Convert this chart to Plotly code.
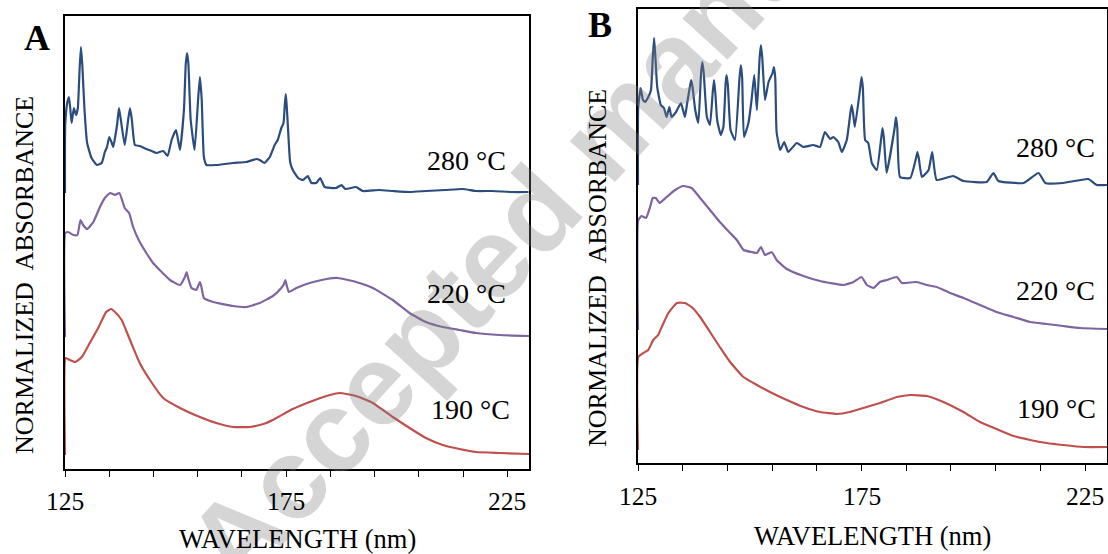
import plotly.graph_objects as go

# ---------------- data (arbitrary absorbance units) ----------------
# Panel A
wl_A_280 = [125.0, 125.05, 125.5, 125.9, 126.2, 126.5, 127.0, 127.5, 127.9, 128.3, 128.6, 128.9, 129.4,
            130.0, 131.0, 132.2, 133.3, 134.0, 134.5, 135.0, 135.5, 135.9, 136.8, 137.2, 137.6, 138.5,
            139.3, 139.7, 140.1, 140.8, 141.9, 143.4, 144.6, 145.7, 147.2, 148.2, 149.1, 150.1, 151.0,
            151.9, 152.3, 152.6, 152.9, 153.4, 154.3, 155.1, 155.5, 155.9, 156.4, 157.0, 159.2, 163.0,
            166.0, 168.3, 169.0, 170.1, 171.3, 172.4, 173.1, 173.9, 174.4, 174.7, 174.9, 175.1, 175.4,
            175.9, 176.5, 177.7, 178.8, 179.9, 180.7, 181.8, 182.7, 183.7, 186.3, 187.5, 188.4, 190.8,
            192.3, 196.0, 199.1, 203.0, 206.6, 211.0, 214.9, 218.0, 221.7, 226.0, 229.8]
abs_A_280 = [276, 344, 366, 372, 360, 346, 361, 354, 361, 400, 422, 405, 360,
             326, 311, 304, 306, 317, 322, 332, 327, 322, 345, 361, 350, 324,
             350, 361, 350, 324, 323, 320, 318, 316, 318, 313, 329, 339, 319,
             360, 405, 416, 405, 350, 319, 370, 392, 370, 312, 304, 304, 306,
             307, 310, 309, 306, 312, 324, 329, 341, 346, 365, 375, 365, 342,
             307, 299, 291, 289, 293, 286, 286, 291, 282, 281, 284, 280, 282,
             278, 279, 278, 277, 278, 279, 280, 278, 278, 277, 277]

wl_A_220 = [125.0, 125.05, 125.7, 126.9, 127.8, 128.5, 129.1, 130.0, 131.4, 132.9, 134.0, 135.2, 136.3,
            137.3, 138.5, 139.5, 140.4, 141.9, 143.4, 144.9, 146.4, 148.0, 148.7, 151.0, 152.1, 152.5,
            152.9, 153.6, 154.7, 155.2, 155.5, 155.8, 156.4, 158.5, 163.0, 166.0, 169.0, 172.0, 173.9,
            174.5, 174.8, 175.1, 175.6, 177.3, 180.3, 184.1, 186.7, 190.8, 194.6, 199.1, 202.9, 206.6,
            210.4, 214.2, 217.9, 223.2, 229.9]
abs_A_220 = [132, 236, 237, 234, 234, 249, 244, 240, 247, 262, 271, 276, 274,
             276, 261, 256, 242, 227, 216, 206, 199, 192, 189, 184, 192, 197,
             190, 181, 179, 184, 187, 183, 171, 167, 163, 162, 166, 173, 181,
             185, 189, 184, 177, 181, 186, 190, 191, 187, 181, 169, 156, 147,
             142, 139, 136, 134, 133]

wl_A_190 = [125.0, 125.15, 126.1, 127.3, 128.8, 130.6, 132.5, 134.3, 135.4, 136.3, 137.8, 139.7, 141.9,
            144.2, 147.2, 151.0, 155.5, 159.2, 163.0, 166.8, 169.0, 170.5, 172.8, 176.5, 180.3, 184.1,
            187.1, 190.8, 194.6, 199.1, 202.9, 206.6, 210.4, 214.2, 217.9, 223.2, 229.9]
abs_A_190 = [14, 111, 109, 107, 112, 126, 141, 157, 160, 157, 149, 129, 106,
             89, 71, 61, 52, 46, 42, 42, 44, 46, 51, 60, 67, 73,
             76, 73, 66, 52, 41, 31, 24, 20, 17, 16, 15]

# Panel B
wl_B_280 = [125.0, 125.05, 125.6, 126.1, 126.6, 127.3, 127.9, 128.3, 128.6, 128.9, 129.3, 130.1, 130.8,
            131.4, 132.0, 132.5, 133.5, 134.6, 135.5, 136.0, 136.6, 136.9, 137.2, 137.8, 138.5, 139.1,
            139.4, 139.7, 140.4, 141.1, 141.7, 142.0, 142.3, 142.7, 143.5, 144.1, 144.6, 144.8, 145.1,
            145.7, 146.7, 147.7, 148.0, 148.3, 148.7, 149.7, 150.4, 151.0, 151.6, 152.2, 152.5, 152.8,
            153.4, 154.2, 155.1, 155.4, 155.7, 156.0, 156.8, 157.7, 158.6, 160.5, 162.0, 164.2, 165.7,
            166.8, 168.0, 168.7, 169.8, 170.6, 171.7, 172.5, 172.8, 173.1, 173.5, 174.7, 175.0, 175.3,
            175.8, 176.5, 177.3, 178.4, 179.4, 179.7, 180.0, 180.6, 182.4, 182.7, 183.0, 183.6, 185.9,
            187.2, 187.5, 187.8, 188.5, 190.0, 190.8, 191.8, 195.5, 197.8, 203.0, 204.5, 205.6, 211.2,
            214.6, 216.1, 220.1, 225.7, 227.6, 229.9]
abs_B_280 = [278, 356, 375, 363, 361, 366, 373, 405, 425, 405, 376, 358, 355,
             346, 356, 346, 351, 360, 346, 360, 376, 383, 376, 353, 340, 390,
             401, 390, 346, 338, 370, 383, 370, 343, 328, 336, 380, 388, 378,
             333, 323, 385, 398, 385, 326, 340, 363, 388, 353, 405, 418, 405,
             363, 381, 390, 396, 385, 331, 313, 321, 311, 320, 316, 318, 316,
             331, 324, 326, 321, 311, 323, 350, 358, 350, 336, 375, 386, 375,
             323, 320, 300, 293, 325, 335, 325, 290, 335, 346, 335, 286, 285,
             305, 311, 305, 286, 293, 311, 283, 287, 282, 281, 290, 282, 280,
             290, 280, 280, 284, 278, 278]

wl_B_220 = [125.0, 125.05, 125.8, 126.8, 127.7, 128.3, 129.0, 129.8, 131.4, 133.3, 135.1, 137.0, 138.9,
            141.1, 143.3, 145.6, 147.1, 148.6, 150.4, 151.6, 152.5, 153.4, 154.9, 156.0, 158.3, 162.0,
            165.7, 168.0, 171.0, 173.2, 175.0, 176.2, 177.7, 179.1, 180.6, 182.9, 184.0, 187.3, 189.6,
            191.8, 194.8, 197.8, 201.5, 205.2, 209.0, 212.7, 216.4, 220.1, 223.9, 229.9]
abs_B_220 = [133, 243, 247, 245, 256, 265, 265, 260, 266, 273, 277, 275, 265,
             253, 241, 230, 223, 213, 211, 210, 216, 208, 211, 203, 194, 187,
             182, 180, 178, 181, 186, 178, 175, 181, 183, 186, 180, 181, 178,
             176, 170, 165, 158, 151, 146, 141, 139, 137, 135, 134]

wl_B_190 = [125.0, 125.05, 126.2, 127.3, 128.4, 129.5, 130.3, 131.8, 133.7, 135.5, 137.0, 138.9, 141.1,
            143.3, 145.6, 148.6, 151.6, 154.5, 158.3, 162.0, 165.7, 169.5, 172.4, 175.4, 179.1, 182.9,
            185.9, 189.6, 193.3, 197.8, 201.5, 205.2, 209.0, 212.7, 216.4, 220.1, 224.6, 229.9]
abs_B_190 = [13, 106, 110, 113, 123, 128, 136, 150, 160, 160, 156, 146, 131,
             116, 101, 86, 78, 71, 63, 56, 51, 49, 51, 55, 60, 66,
             68, 67, 61, 51, 41, 34, 27, 23, 20, 18, 16, 16]

temps = ["280 °C", "220 °C", "190 °C"]
colors = ["#2B4C7E", "#8064A2", "#C0504D"]
tick_vals = [125, 135, 145, 155, 165, 175, 185, 195, 205, 215, 225]
label_vals = [125, 175, 225]
label_text = ["125", "175", "225"]

W, H = 1108, 554
SERIF = "Liberation Serif, Times New Roman, serif"

fig = go.Figure()

panels = [
    ("x", "y", [(wl_A_280, abs_A_280), (wl_A_220, abs_A_220), (wl_A_190, abs_A_190)]),
    ("x2", "y2", [(wl_B_280, abs_B_280), (wl_B_220, abs_B_220), (wl_B_190, abs_B_190)]),
]
for xa, ya, series in panels:
    for (wl, ab), col in zip(series, colors):
        fig.add_trace(go.Scatter(x=wl, y=ab, mode="lines", xaxis=xa, yaxis=ya,
                                 line=dict(color=col, width=2.2, shape="spline", smoothing=0.4),
                                 showlegend=False, hoverinfo="skip"))


def px_x(p):
    return p / W


def px_y(p):
    return 1 - p / H


xcommon = dict(range=[125, 229.9], tickmode="array", tickvals=tick_vals, showticklabels=False,
               ticks="outside", ticklen=6, tickwidth=1.3, tickcolor="black", automargin=False,
               showline=True, linecolor="black", linewidth=1.6, mirror=True,
               showgrid=False, zeroline=False)
ycommon = dict(showticklabels=False, ticks="", showline=True, linecolor="black", automargin=False,
               linewidth=1.6, mirror=True, showgrid=False, zeroline=False)

fig.update_layout(
    width=W, height=H,
    margin=dict(l=0, r=0, t=0, b=0, autoexpand=False),
    paper_bgcolor="white", plot_bgcolor="rgba(0,0,0,0)",
    xaxis=dict(domain=[px_x(65), px_x(529)], anchor="y", **xcommon),
    yaxis=dict(domain=[px_y(469), px_y(16)], anchor="x", range=[0, 453], **ycommon),
    xaxis2=dict(domain=[px_x(638), px_x(1107)], anchor="y2", **xcommon),
    yaxis2=dict(domain=[px_y(463), px_y(9)], anchor="x2", range=[0, 454], **ycommon),
)


def note(text, cx, cy, size, angle=0, color="black", family=SERIF, xanchor="center"):
    return dict(text=text, x=px_x(cx), y=px_y(cy), xref="paper", yref="paper",
                xanchor=xanchor, yanchor="middle", showarrow=False, textangle=angle,
                font=dict(family=family, size=size, color=color))


ann = []
# watermark (drawn semi-transparent)
ann.append(note("<b>Accepted manuscript</b>", 604, 135, 115, angle=-47.5,
                color="rgba(128,128,128,0.33)", family="Liberation Sans, Arial, sans-serif"))
# tick labels (placed on the data x positions)
for xref, ypx in (("x", 501), ("x2", 496)):
    for v, t in zip(label_vals, label_text):
        ann.append(dict(text=t, x=v, xref=xref, y=px_y(ypx), yref="paper", xanchor="center",
                        yanchor="middle", showarrow=False,
                        font=dict(family=SERIF, size=25.5, color="black")))
# panel letters
ann.append(note("<b>A</b>", 37, 38, 36))
ann.append(note("<b>B</b>", 600, 25, 36))
# axis titles
for cx, cy in ((297, 539), (872, 536)):
    ann.append(note("WAVELENGTH (nm)", cx, cy, 26.5))
for cx, cy in ((24, 275), (597, 268)):
    ann.append(note("NORMALIZED  ABSORBANCE", cx, cy, 26, angle=-90))
# temperature labels
label_pos = [((508, 160), (508, 293), (512, 409)), ((1097, 147), (1097, 290), (1098, 408))]
for pos in label_pos:
    for t, (rx, cy) in zip(temps, pos):
        ann.append(note(t, rx, cy, 28, xanchor="right"))
fig.update_layout(annotations=ann)

fig.write_html("out.html")
